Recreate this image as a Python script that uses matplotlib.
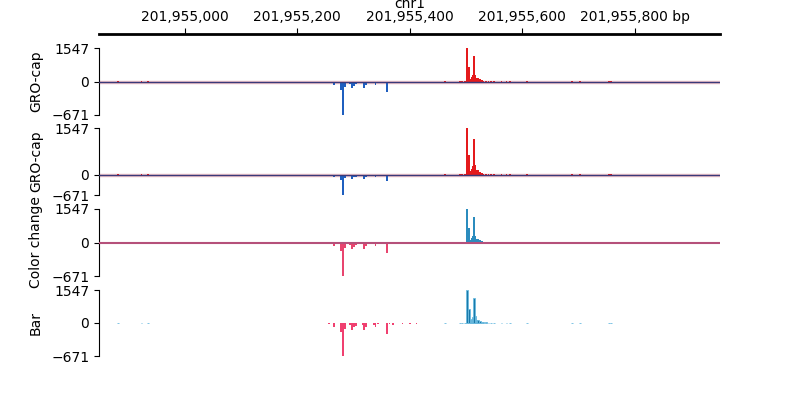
import matplotlib
matplotlib.use("Agg")
import matplotlib.pyplot as plt
import numpy as np

# region shown (bp)
region_start = 201954848
region_end = 201955952
xticks = [201955000, 201955200, 201955400, 201955600, 201955800]
xticklabels = ['201,955,000', '201,955,200', '201,955,400', '201,955,600', '201,955,800 bp']

# GRO-cap signal (bin position, value)
positions = [201954882, 201954924, 201954935,
             201955257, 201955266, 201955278, 201955282, 201955285,
             201955294, 201955298, 201955301, 201955305, 201955316, 201955319,
             201955323, 201955337, 201955340, 201955344, 201955360, 201955364,
             201955371, 201955388, 201955401, 201955412,
             201955463, 201955490, 201955493, 201955499, 201955502, 201955506,
             201955508, 201955510, 201955513, 201955515, 201955517, 201955520,
             201955522, 201955525, 201955529, 201955532, 201955536, 201955540,
             201955545, 201955550, 201955564, 201955572, 201955579, 201955609,
             201955689, 201955703, 201955755, 201955758]
values = [15, 15, 20,
          -25, -80, -180, -671, -120,
          -50, -140, -90, -60, -40, -140,
          -80, -40, -80, -30, -215, -20,
          -40, -30, -20, -20,
          15, 10, 15, 20, 1547, 650,
          120, 200, 300, 1170, 320, 160,
          150, 100, 60, 40, 30, 20,
          15, 15, 15, 15, 15, 12,
          10, 10, 15, 15]

y_max = 1547
y_min = -671
track_labels = ['GRO-cap', 'GRO-cap', 'Color change', 'Bar']

pos = np.array(positions)
val = np.array(values, dtype=float)


def fwd(y):
    y = np.asarray(y, dtype=float)
    return np.where(y >= 0, y / y_max, y / -y_min)


def inv(y):
    y = np.asarray(y, dtype=float)
    return np.where(y >= 0, y * y_max, y * -y_min)


fig = plt.figure(figsize=(8, 4), dpi=100)

left, width = 0.12375, 0.77625

# genome axis on top
ax_top = fig.add_axes([left, 0.90, width, 0.015])
ax_top.set_xlim(region_start, region_end)
ax_top.set_ylim(0, 1)
for s in ['left', 'right', 'bottom']:
    ax_top.spines[s].set_visible(False)
ax_top.spines['top'].set_linewidth(2)
ax_top.xaxis.set_ticks_position('top')
ax_top.xaxis.set_label_position('top')
ax_top.set_xticks(xticks)
ax_top.set_xticklabels(xticklabels)
ax_top.tick_params(axis='x', length=4, pad=3)
ax_top.set_yticks([])
ax_top.set_xlabel('chr1', labelpad=2)

bottoms = [0.7125, 0.5125, 0.31, 0.11]
heights = [0.1675, 0.1675, 0.1675, 0.165]
pos_colors = ['#e41a1c', '#e41a1c', '#2b8cbe', '#1a7aaa']
neg_colors = ['#1f5fbf', '#1f5fbf', '#e8456f', '#f04070']

for i in range(4):
    ax = fig.add_axes([left, bottoms[i], width, heights[i]])
    if i != 1:
        ax.set_yscale('function', functions=(fwd, inv))
    ax.set_xlim(region_start, region_end)
    ax.set_ylim(y_min, y_max)

    up = val >= 0
    if i < 3:
        ax.bar(pos[up], val[up], width=2.5, color=pos_colors[i], linewidth=0, zorder=2)
        ax.bar(pos[~up], val[~up], width=2.5, color=neg_colors[i], linewidth=0, zorder=2)
        if i < 2:
            ax.plot([region_start, region_end], [0, 0], color='#e8a0a8', lw=2.5, alpha=0.6, zorder=1)
            ax.plot([region_start, region_end], [0, 0], color='#3a3a7a', lw=1.0, zorder=3)
        else:
            ax.plot([region_start, region_end], [0, 0], color='#b5507a', lw=1.5, zorder=3)
    else:
        ax.bar(pos[up], val[up], width=2.5, color=pos_colors[i],
               edgecolor='#6bbbe0', linewidth=0.6, zorder=2)
        ax.bar(pos[~up], val[~up], width=2.5, color=neg_colors[i],
               linewidth=0, zorder=2)

    for s in ['top', 'right', 'bottom']:
        ax.spines[s].set_visible(False)
    ax.spines['left'].set_bounds(y_min, y_max)
    ax.set_xticks([])
    ax.set_yticks([y_min, 0, y_max])
    ax.set_yticklabels(['\u2212671', '0', '1547'])
    ax.yaxis.set_minor_locator(matplotlib.ticker.NullLocator())
    ax.set_ylabel(track_labels[i], labelpad=6)

fig.savefig('out.png', dpi=100, facecolor='white')
